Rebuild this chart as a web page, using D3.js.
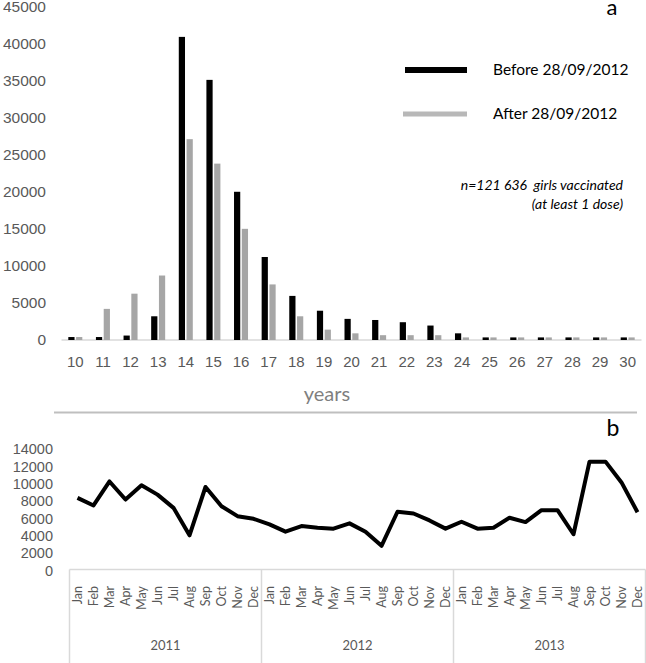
<!DOCTYPE html>
<html>

<head>
  <title>HPV vaccination by age and month</title>
  <script src="https://cdn.jsdelivr.net/npm/d3@7"></script>
  <style type="text/css">
    html,
    body {
      margin: 0;
      padding: 0;
      background: #fff;
    }

    svg {
      display: block;
      font-family: Lato, "Open Sans", sans-serif;
    }

    .tick text {
      fill: #595959;
    }

    .domain,
    .tick line {
      display: none;
    }

    .note {
      white-space: pre;
    }
  </style>
</head>

<body>
  <svg class="svg" width="646" height="663"></svg>
  <script type="text/javascript">
    // panel a : girls vaccinated by age
    var ages = [10, 11, 12, 13, 14, 15, 16, 17, 18, 19, 20, 21, 22, 23, 24, 25, 26, 27, 28, 29, 30];
    var before = [400, 400, 600, 3200, 40900, 35100, 20000, 11200, 5950, 3950, 2850, 2700, 2400, 1950, 900, 350, 350, 350, 350, 350, 350];
    var after = [400, 4200, 6250, 8700, 27100, 23800, 15000, 7500, 3200, 1400, 900, 650, 650, 650, 350, 350, 350, 350, 350, 350, 350];
    var seriesNames = ['Before 28/09/2012', 'After 28/09/2012'];
    var yTicksA = [0, 5000, 10000, 15000, 20000, 25000, 30000, 35000, 40000, 45000];

    // panel b : doses per month
    var years = ['2011', '2012', '2013'];
    var monthNames = ['Jan', 'Feb', 'Mar', 'Apr', 'May', 'Jun', 'Jul', 'Aug', 'Sep', 'Oct', 'Nov', 'Dec'];
    var monthly = [
      8270, 7400, 10170, 8080, 9720, 8650, 7120, 3950, 9530, 7310, 6160, 5860,
      5210, 4370, 5020, 4830, 4720, 5330, 4370, 2730, 6670, 6470, 5670, 4720,
      5520, 4720, 4830, 5980, 5480, 6850, 6850, 4070, 12460, 12460, 10060, 6620
    ];
    var yTicksB = [0, 2000, 4000, 6000, 8000, 10000, 12000, 14000];

    var svg = d3.select('.svg');
    var colors = ['#000000', '#a6a6a6'];
    var plain = d3.format('d');

    // ---------- panel a ----------
    var xA = d3.scaleBand()
      .domain(ages)
      .range([61.5, 641.5]);

    var xSub = d3.scaleBand()
      .domain([0, 1])
      .range([xA.bandwidth() / 2 - 7, xA.bandwidth() / 2 + 7])
      .paddingInner(0.2);

    var yA = d3.scaleLinear()
      .domain([0, 45000])
      .range([340, 6.5]);

    svg.append('g')
      .attr('class', 'y axis')
      .attr('transform', 'translate(46,0)')
      .call(d3.axisLeft(yA).tickValues(yTicksA).tickFormat(plain).tickSize(0).tickPadding(0))
      .selectAll('text')
      .attr('font-size', '15.5px');

    svg.append('line')
      .attr('x1', xA.range()[0])
      .attr('x2', xA.range()[1])
      .attr('y1', yA(0))
      .attr('y2', yA(0))
      .attr('stroke', '#d9d9d9')
      .attr('stroke-width', 1.5);

    var rows = ages.map((a, i) => ({ age: a, vals: [before[i], after[i]] }));

    svg.selectAll('.agegroup')
      .data(rows)
      .enter()
      .append('g')
      .classed('agegroup', true)
      .attr('transform', d => `translate(${xA(d.age)},0)`)
      .selectAll('rect')
      .data(d => d.vals.map((v, k) => ({ k: k, v: v })))
      .enter()
      .append('rect')
      .attr('x', d => xSub(d.k))
      .attr('width', xSub.bandwidth())
      .attr('y', d => yA(d.v))
      .attr('height', d => yA(0) - yA(d.v))
      .attr('fill', d => colors[d.k]);

    svg.append('g')
      .attr('class', 'x axis')
      .attr('transform', `translate(0,${yA(0)})`)
      .call(d3.axisBottom(xA).tickSize(0).tickPadding(16))
      .selectAll('text')
      .attr('font-size', '15px');

    svg.append('text')
      .attr('x', 327)
      .attr('y', 401)
      .attr('text-anchor', 'middle')
      .attr('font-size', '20px')
      .attr('fill', '#7f7f7f')
      .text('years');

    // legend
    var legend = svg.selectAll('.legend')
      .data(seriesNames)
      .enter()
      .append('g')
      .classed('legend', true)
      .attr('transform', (d, i) => `translate(0,${i === 0 ? 70 : 114})`);

    legend.append('line')
      .attr('x1', (d, i) => i === 0 ? 405 : 403)
      .attr('x2', 467)
      .attr('stroke', (d, i) => i === 0 ? '#000' : '#b8b8b8')
      .attr('stroke-width', (d, i) => i === 0 ? 6 : 5);

    legend.append('text')
      .attr('x', 493)
      .attr('dy', '0.35em')
      .attr('font-size', '15.5px')
      .attr('fill', '#000')
      .text(d => d);

    svg.append('text')
      .classed('note', true)
      .attr('x', 623)
      .attr('y', 190)
      .attr('text-anchor', 'end')
      .attr('font-size', '14px')
      .attr('font-style', 'italic')
      .text('n=121 636  girls vaccinated');

    svg.append('text')
      .classed('note', true)
      .attr('x', 623)
      .attr('y', 209)
      .attr('text-anchor', 'end')
      .attr('font-size', '14px')
      .attr('font-style', 'italic')
      .text('(at least 1 dose)');

    svg.append('text')
      .attr('x', 612)
      .attr('y', 15)
      .attr('text-anchor', 'middle')
      .attr('font-size', '22px')
      .text('a');

    // separator
    svg.append('line')
      .attr('x1', 54)
      .attr('x2', 637)
      .attr('y1', 412.5)
      .attr('y2', 412.5)
      .attr('stroke', '#bfbfbf')
      .attr('stroke-width', 2);

    svg.append('text')
      .attr('x', 613)
      .attr('y', 436)
      .attr('text-anchor', 'middle')
      .attr('font-size', '23px')
      .text('b');

    // ---------- panel b ----------
    var monthKeys = [];
    years.forEach(y => monthNames.forEach(m => monthKeys.push(y + '-' + m)));

    var xB = d3.scaleBand()
      .domain(monthKeys)
      .range([69.5, 645.5]);

    var yearScale = d3.scaleBand()
      .domain(years)
      .range(xB.range());

    var yB = d3.scaleLinear()
      .domain([0, 14000])
      .range([569.5, 448.3]);

    svg.append('g')
      .attr('class', 'y axis')
      .attr('transform', 'translate(53,1)')
      .call(d3.axisLeft(yB).tickValues(yTicksB).tickFormat(plain).tickSize(0).tickPadding(0))
      .selectAll('text')
      .attr('font-size', '14.5px');

    // category box
    svg.append('line')
      .attr('x1', xB.range()[0])
      .attr('x2', xB.range()[1])
      .attr('y1', yB(0))
      .attr('y2', yB(0))
      .attr('stroke', '#d9d9d9')
      .attr('stroke-width', 1.5);

    svg.selectAll('.yearsep')
      .data(years.concat(['end']))
      .enter()
      .append('line')
      .classed('yearsep', true)
      .attr('x1', d => d === 'end' ? xB.range()[1] : yearScale(d))
      .attr('x2', d => d === 'end' ? xB.range()[1] : yearScale(d))
      .attr('y1', yB(0))
      .attr('y2', 663)
      .attr('stroke', '#d9d9d9')
      .attr('stroke-width', 1.5);

    svg.selectAll('.month')
      .data(monthKeys)
      .enter()
      .append('text')
      .classed('month', true)
      .attr('transform', d => `translate(${xB(d) + xB.bandwidth() / 2},586) rotate(-90)`)
      .attr('dy', '0.35em')
      .attr('text-anchor', 'end')
      .attr('font-size', '12.5px')
      .attr('fill', '#595959')
      .text(d => d.split('-')[1]);

    svg.selectAll('.yearlabel')
      .data(years)
      .enter()
      .append('text')
      .classed('yearlabel', true)
      .attr('x', d => yearScale(d) + yearScale.bandwidth() / 2)
      .attr('y', 645)
      .attr('dy', '0.35em')
      .attr('text-anchor', 'middle')
      .attr('font-size', '13px')
      .attr('fill', '#595959')
      .text(d => d);

    var line = d3.line()
      .x((d, i) => xB(monthKeys[i]) + xB.bandwidth() / 2)
      .y(d => yB(d));

    svg.append('path')
      .datum(monthly)
      .attr('fill', 'none')
      .attr('stroke', '#000')
      .attr('stroke-width', 4)
      .attr('stroke-linejoin', 'round')
      .attr('d', line);
  </script>
</body>

</html>
